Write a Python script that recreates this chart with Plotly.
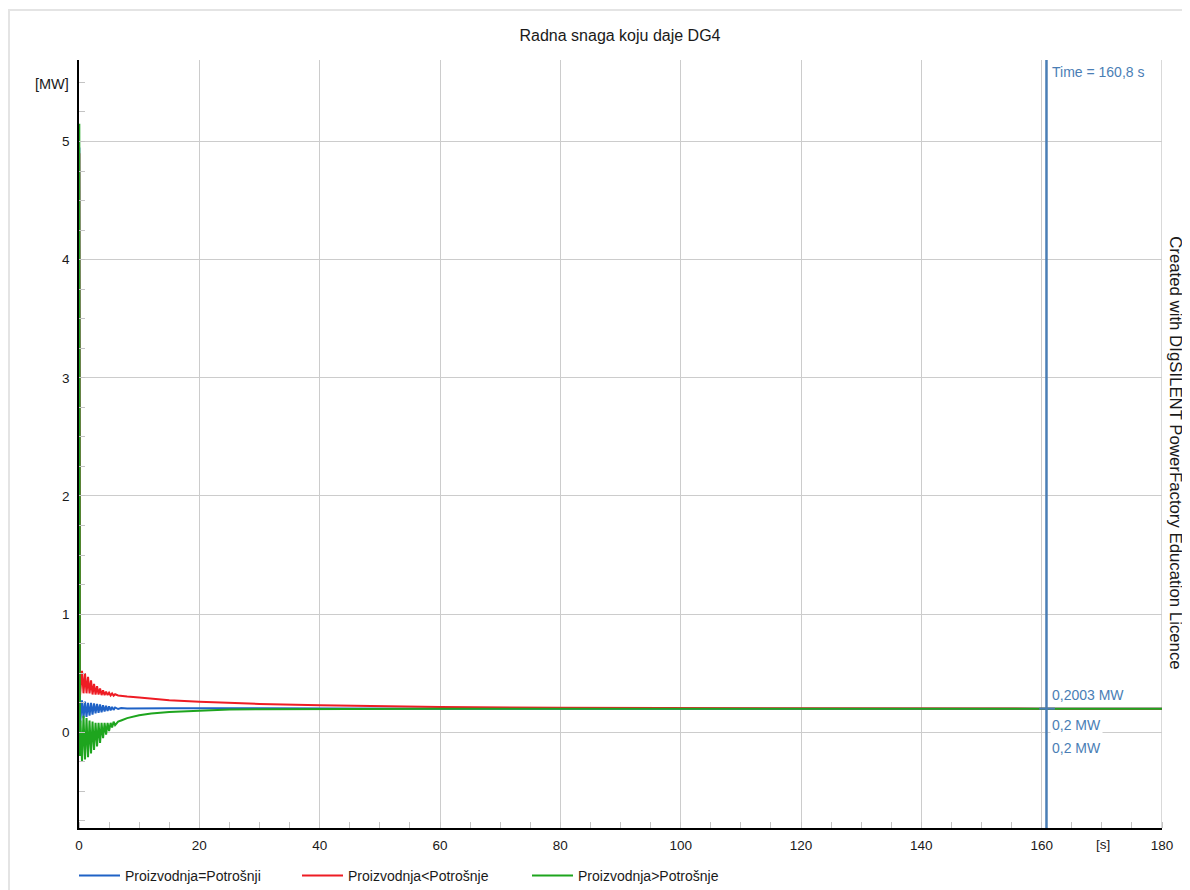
import plotly.graph_objects as go

# ---------------- data ----------------
t = [0.0, 0.05, 0.15, 0.25,
     0.5, 0.75, 1.0, 1.25, 1.5, 1.75, 2.0, 2.25, 2.5, 2.75, 3.0, 3.25,
     3.5, 3.75, 4.0, 4.25, 4.5, 4.75, 5.0, 5.25, 5.5, 5.75, 6.0,
     6.5, 7.0, 8.0, 10.0, 12.0, 15.0, 20.0, 25.0, 30.0, 40.0, 50.0,
     60.0, 80.0, 100.0, 120.0, 140.0, 160.0, 180.0]

# Proizvodnja=Potrošnji (blue)
p_eq = [0.20, 4.95, 0.05, 0.10,
        0.27, 0.12, 0.26, 0.13, 0.25, 0.14, 0.25, 0.15, 0.245, 0.16, 0.24, 0.165,
        0.235, 0.17, 0.23, 0.175, 0.225, 0.18, 0.22, 0.185, 0.215, 0.19, 0.21,
        0.197, 0.205, 0.201, 0.203, 0.204, 0.204, 0.204, 0.203, 0.202, 0.201, 0.2005,
        0.2003, 0.2002, 0.2001, 0.2001, 0.2, 0.2, 0.2]

# Proizvodnja<Potrošnje (red)
p_lt = [0.20, 4.90, 0.30, 0.36,
        0.52, 0.33, 0.50, 0.33, 0.47, 0.33, 0.44, 0.32, 0.41, 0.32, 0.39, 0.32,
        0.37, 0.315, 0.355, 0.315, 0.345, 0.315, 0.335, 0.312, 0.328, 0.31, 0.322,
        0.312, 0.308, 0.302, 0.295, 0.285, 0.272, 0.258, 0.248, 0.24, 0.228, 0.22,
        0.214, 0.207, 0.204, 0.202, 0.2008, 0.2003, 0.2001]

# Proizvodnja>Potrošnje (green)
p_gt = [0.20, 5.15, -0.20, 0.10,
        -0.25, 0.14, -0.23, 0.12, -0.21, 0.10, -0.18, 0.09, -0.15, 0.08, -0.12, 0.08,
        -0.09, 0.08, -0.05, 0.08, -0.02, 0.08, 0.01, 0.08, 0.04, 0.09, 0.06,
        0.09, 0.10, 0.12, 0.145, 0.16, 0.172, 0.185, 0.192, 0.196, 0.199, 0.2,
        0.2, 0.2, 0.2, 0.2, 0.2, 0.2, 0.2]

series = [p_eq, p_lt, p_gt]
names = ["Proizvodnja=Potrošnji", "Proizvodnja<Potrošnje", "Proizvodnja>Potrošnje"]
colors = ["#1f62c6", "#ee1c24", "#1ea51e"]

x_ticks = [0, 20, 40, 60, 80, 100, 120, 140, 160, 180]
y_ticks = [0, 1, 2, 3, 4, 5]
x_range = [0, 180]
y_range = [-0.81, 5.69]

title = "Radna snaga koju daje DG4"
watermark = "Created with DIgSILENT PowerFactory Education Licence"
cursor_t = 160.8
cursor_label = "Time = 160,8 s"
cursor_value = 0.2
cursor_texts = ["0,2003 MW", "0,2 MW", "0,2 MW"]
cursor_text_y = [0.316, 0.062, -0.133]

# ---------------- layout geometry ----------------
# the page body adds an 8 px margin, so the figure is drawn 8 px smaller
OFF = 8
W, H = 1190 - OFF, 890 - OFF
L, R, T, B = 79 - OFF, 1162 - OFF, 59.5 - OFF, 828 - OFF
PW, PH = R - L, B - T


def px_x(p):          # page pixel -> paper x
    return (p - OFF - L) / PW


def px_y(p):          # page pixel -> paper y
    return (B - (p - OFF)) / PH


def cx(p):            # page pixel -> container x
    return (p - OFF) / W


def cy(p):            # page pixel -> container y
    return 1 - (p - OFF) / H


FONT = "Liberation Sans, Arial, sans-serif"
CUR = "#4a7eb5"
GRID = "#cccccc"
TXT = "#1a1a1a"

fig = go.Figure()
legend_ids = ["legend", "legend2", "legend3"]
for vals, name, col, lg in zip(series, names, colors, legend_ids):
    fig.add_trace(go.Scatter(x=t, y=vals, mode="lines", name=name,
                             line=dict(color=col, width=2),
                             legend=lg, showlegend=True))

legend_line_px = [79, 302, 532]
legend_common = dict(orientation="h", xref="container", yref="container",
                     yanchor="middle", y=cy(876), xanchor="left",
                     font=dict(family=FONT, size=14, color=TXT),
                     bgcolor="rgba(0,0,0,0)", itemwidth=41, borderwidth=0)

fig.update_layout(
    width=W, height=H,
    margin=dict(l=L, r=W - R, t=T, b=H - B, pad=0, autoexpand=False),
    paper_bgcolor="white", plot_bgcolor="white",
    font=dict(family=FONT, size=13.5, color=TXT),
    title=dict(text=title, x=px_x(620), xref="paper", xanchor="center",
               y=cy(35), yref="container", yanchor="middle",
               font=dict(family=FONT, size=16, color=TXT)),
    legend=dict(x=cx(legend_line_px[0] - 5), **legend_common),
    legend2=dict(x=cx(legend_line_px[1] - 5), **legend_common),
    legend3=dict(x=cx(legend_line_px[2] - 5), **legend_common),
    xaxis=dict(range=x_range, tickvals=x_ticks, ticks="", showgrid=True,
               gridcolor=GRID, gridwidth=1, showline=True, linecolor="black",
               linewidth=1.5, zeroline=False, tickfont=dict(size=13.5),
               ticklabelstandoff=4, automargin=False,
               minor=dict(dtick=5, tick0=0, ticks="inside", ticklen=6,
                          tickcolor="#c4c4c4", showgrid=False)),
    yaxis=dict(range=y_range, tickvals=y_ticks, ticks="", showgrid=True,
               gridcolor=GRID, gridwidth=1, showline=True, linecolor="black",
               linewidth=1.5, zeroline=False, tickfont=dict(size=13.5),
               ticklabelstandoff=5, automargin=False,
               minor=dict(dtick=0.25, tick0=0, ticks="inside", ticklen=6,
                          tickcolor="#c4c4c4", showgrid=False)),
)

# outer light frame
fig.add_shape(type="rect", xref="paper", yref="paper",
              x0=px_x(9), x1=px_x(1215), y0=px_y(915), y1=px_y(9.5),
              line=dict(color="#e4e4e4", width=2), layer="below")
# right border of plot area
fig.add_shape(type="line", xref="x", yref="paper", x0=x_range[1], x1=x_range[1],
              y0=0, y1=1, line=dict(color=GRID, width=1.5), layer="below")
# cursor line and crosshair
fig.add_shape(type="line", xref="x", yref="paper", x0=cursor_t, x1=cursor_t,
              y0=0, y1=1, line=dict(color=CUR, width=2.5))
fig.add_shape(type="line", xref="x", yref="y", x0=cursor_t - 1.2, x1=cursor_t + 1.4,
              y0=cursor_value, y1=cursor_value, line=dict(color=CUR, width=2))

# axis unit labels
fig.add_annotation(text="[MW]", xref="paper", yref="paper", x=px_x(71), y=px_y(84),
                   xanchor="right", yanchor="middle", showarrow=False,
                   font=dict(size=14.5, color=TXT))
fig.add_annotation(text="[s]", xref="x", yref="paper", x=170.2, y=px_y(845),
                   xanchor="center", yanchor="middle", showarrow=False,
                   font=dict(size=13.5, color=TXT))

# cursor labels
fig.add_annotation(text=cursor_label, xref="x", yref="paper", x=cursor_t, y=px_y(72),
                   xanchor="left", yanchor="middle", xshift=4, showarrow=False,
                   font=dict(size=14, color=CUR))
for txt, yv in zip(cursor_texts, cursor_text_y):
    fig.add_annotation(text=txt, xref="x", yref="y", x=cursor_t, y=yv,
                       xanchor="left", yanchor="middle", xshift=4, showarrow=False,
                       bgcolor="white" if txt == "0,2 MW" else None,
                       font=dict(size=14, color=CUR))

# vertical watermark
fig.add_annotation(text=watermark, xref="paper", yref="paper", x=px_x(1176), y=px_y(452),
                   xanchor="center", yanchor="middle", textangle=90, showarrow=False,
                   font=dict(size=16.8, color=TXT))

fig.write_html("out.html")
